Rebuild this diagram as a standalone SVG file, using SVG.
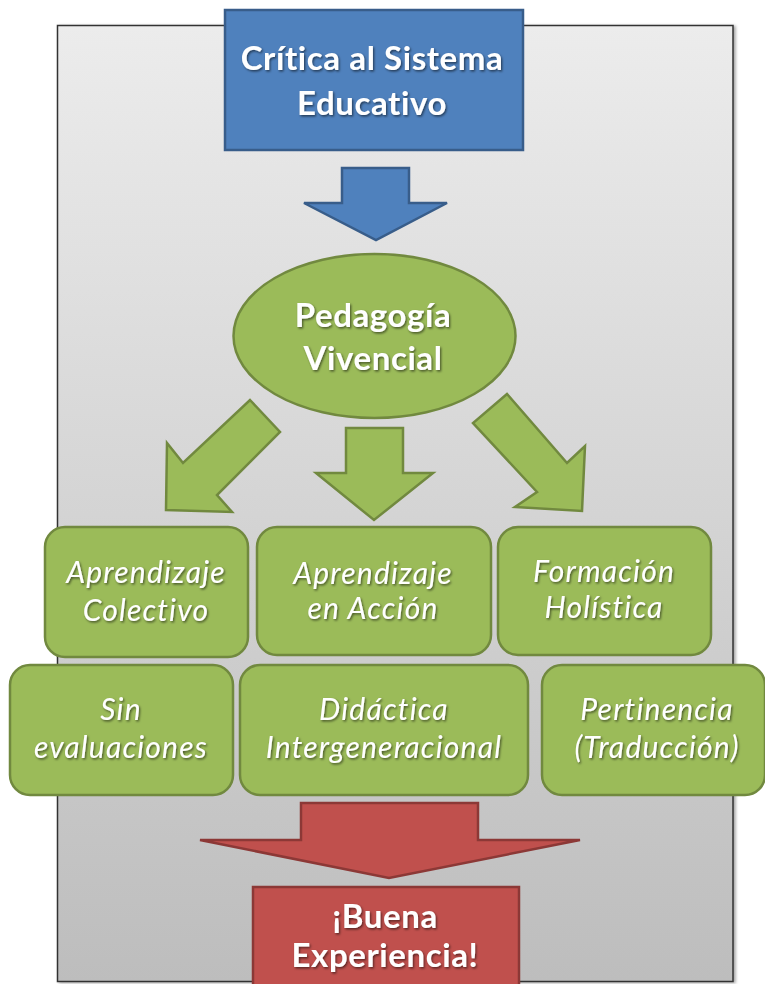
<svg xmlns="http://www.w3.org/2000/svg" width="765" height="984" viewBox="0 0 765 984">
  <defs>
    <linearGradient id="panelFill" x1="0" y1="0" x2="0" y2="1">
      <stop offset="0" stop-color="#ececec"/>
      <stop offset="1" stop-color="#bdbdbd"/>
    </linearGradient>
    <filter id="txtShadow" x="-10%" y="-30%" width="120%" height="160%">
      <feDropShadow dx="1.2" dy="1.5" stdDeviation="0.9" flood-color="#000" flood-opacity="0.55"/>
    </filter>
    <filter id="panelShadow" x="-5%" y="-5%" width="110%" height="110%">
      <feDropShadow dx="2" dy="1" stdDeviation="1.5" flood-color="#000" flood-opacity="0.35"/>
    </filter>
  </defs>
  <style>
    .blue { fill: #4f81bd; stroke: #385d8a; stroke-width: 2.5; stroke-linejoin: miter; }
    .green { fill: #9bbb59; stroke: #71893f; stroke-width: 2.5; stroke-linejoin: miter; }
    .red { fill: #c0504d; stroke: #8c3836; stroke-width: 2.5; stroke-linejoin: miter; }
    .bold { font-family: Lato, "Open Sans", "Liberation Sans", sans-serif; font-weight: bold; font-size: 33px; letter-spacing: 0.6px; fill: #ffffff; text-anchor: middle; filter: url(#txtShadow); }
    .ital { font-family: Lato, "Open Sans", "Liberation Sans", sans-serif; font-style: italic; font-size: 30px; letter-spacing: 1.2px; fill: #ffffff; text-anchor: middle; filter: url(#txtShadow); }
  </style>

  <!-- background panel -->
  <rect x="57.5" y="25.5" width="675.5" height="956" fill="url(#panelFill)" stroke="#333333" stroke-width="1.5" filter="url(#panelShadow)"/>

  <!-- connectors (block arrows) -->
  <g id="connectors">
    <polygon class="blue" points="342,168 409,168 409,203 447,203 376,240 304,203 342,203"/>
    <polygon class="green" points="250,400 280,432 217,495 232,512 166,510 167,443 183,463"/>
    <polygon class="green" points="346,428 403,428 403,473 433,473 374,520 316,473 346,473"/>
    <polygon class="green" points="507,394 473,423 537,492 515,507 582,511 585,446 567,463"/>
    <polygon class="red" points="301,803 478,803 478,840 580,840 389,878 200,840 301,840"/>
  </g>

  <g id="critica">
    <rect class="blue" x="225" y="10" width="298" height="140"/>
    <text class="bold" x="372" y="70">Crítica al Sistema</text>
    <text class="bold" x="372" y="115">Educativo</text>
  </g>

  <g id="pedagogia">
    <ellipse class="green" cx="374.5" cy="336" rx="141" ry="82"/>
    <text class="bold" x="373" y="327">Pedagogía</text>
    <text class="bold" x="373" y="370">Vivencial</text>
  </g>

  <g id="aprendizaje-colectivo">
    <rect class="green" x="45" y="527" width="203" height="130" rx="20"/>
    <text class="ital" x="146" y="583">Aprendizaje</text>
    <text class="ital" x="146" y="621">Colectivo</text>
  </g>

  <g id="aprendizaje-accion">
    <rect class="green" x="257" y="527" width="234" height="128" rx="20"/>
    <text class="ital" x="373" y="584">Aprendizaje</text>
    <text class="ital" x="373" y="619">en Acción</text>
  </g>

  <g id="formacion-holistica">
    <rect class="green" x="498" y="527" width="213" height="128" rx="20"/>
    <text class="ital" x="604" y="582">Formación</text>
    <text class="ital" x="604" y="618">Holística</text>
  </g>

  <g id="sin-evaluaciones">
    <rect class="green" x="10" y="665" width="223" height="130" rx="20"/>
    <text class="ital" x="121" y="720">Sin</text>
    <text class="ital" x="121" y="758">evaluaciones</text>
  </g>

  <g id="didactica">
    <rect class="green" x="240" y="665" width="288" height="130" rx="20"/>
    <text class="ital" x="384" y="720">Didáctica</text>
    <text class="ital" x="384" y="758">Intergeneracional</text>
  </g>

  <g id="pertinencia">
    <rect class="green" x="542" y="665" width="223" height="130" rx="20"/>
    <text class="ital" x="657" y="720">Pertinencia</text>
    <text class="ital" x="657" y="758">(Traducción)</text>
  </g>

  <g id="buena-experiencia">
    <rect class="red" x="253" y="887" width="266" height="110"/>
    <text class="bold" x="385" y="928">¡Buena</text>
    <text class="bold" x="385" y="967">Experiencia!</text>
  </g>
</svg>
